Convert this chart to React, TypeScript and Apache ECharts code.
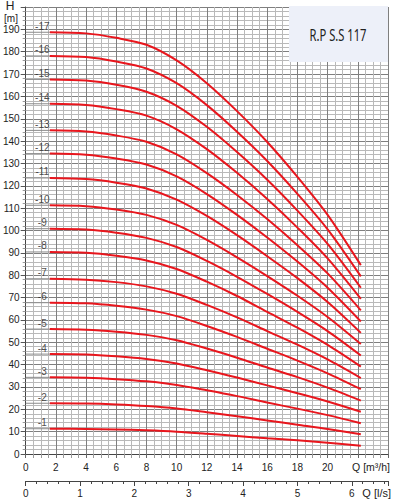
import React, { useEffect, useRef } from "react";
import * as echarts from "echarts";

// Flow points (m³/h) at which curve heads were read
const FLOW_Q = [1.6, 4, 6, 8, 10, 12, 14, 16, 18, 20, 22.2];

// Head (m) per stage count
const H1 = [11.3, 11.2, 11.0, 10.6, 10.0, 9.1, 8.1, 7.0, 6.1, 5.0, 3.7];
const H2 = [22.7, 22.6, 22.2, 21.5, 20.4, 18.7, 16.9, 15.0, 13.1, 11.2, 8.8];
const H3 = [34.3, 34.1, 33.5, 32.5, 30.9, 28.5, 25.9, 23.0, 20.3, 17.4, 13.8];
const H4 = [44.7, 44.5, 43.7, 42.5, 40.5, 37.5, 34.2, 30.7, 27.2, 23.5, 18.9];
const H5 = [55.9, 55.6, 54.7, 53.3, 50.9, 47.2, 43.1, 38.7, 34.4, 29.7, 23.9];
const H6 = [67.7, 67.4, 66.3, 64.6, 61.7, 57.3, 52.4, 47.1, 41.8, 36.1, 29.0];
const H7 = [78.4, 78.0, 76.9, 75.0, 71.7, 66.7, 61.1, 55.0, 48.9, 42.3, 34.0];
const H8 = [90.4, 90.0, 88.7, 86.6, 82.8, 77.1, 70.7, 63.6, 56.5, 48.8, 39.1];
const H9 = [100.8, 100.4, 99.0, 96.7, 92.6, 86.4, 79.3, 71.6, 63.6, 55.0, 44.1];
const H10 = [111.3, 110.9, 109.4, 107.0, 102.5, 95.8, 88.0, 79.6, 70.8, 61.3, 49.2];
const H11 = [123.5, 123.0, 121.4, 118.8, 113.8, 106.5, 97.9, 88.5, 78.7, 68.0, 54.2];
const H12 = [134.4, 133.9, 132.2, 129.5, 124.2, 116.3, 107.0, 96.9, 86.1, 74.4, 59.3];
const H13 = [144.8, 144.3, 142.5, 139.7, 134.1, 125.7, 115.9, 105.1, 93.4, 80.8, 64.3];
const H14 = [156.7, 156.2, 154.3, 151.4, 145.3, 136.4, 125.8, 114.1, 101.3, 87.5, 69.4];
const H15 = [167.6, 167.1, 165.2, 162.1, 155.8, 146.4, 135.1, 122.7, 108.9, 94.0, 74.4];
const H16 = [178.1, 177.6, 175.6, 172.5, 165.9, 156.1, 144.2, 131.1, 116.4, 100.5, 79.5];
const H17 = [188.7, 188.2, 186.2, 183.1, 176.1, 165.9, 153.4, 139.6, 124.0, 107.0, 84.5];

const STAGE_CURVES = [H1, H2, H3, H4, H5, H6, H7, H8, H9, H10, H11, H12, H13, H14, H15, H16, H17];
const STAGE_LABELS = ["-1", "-2", "-3", "-4", "-5", "-6", "-7", "-8", "-9", "-10", "-11", "-12", "-13", "-14", "-15", "-16", "-17"];

const TITLE = "R.P S.S 117";
const FLOW_MAX_M3H = 24;
const HEAD_MAX = 200;

const FONT = "'Liberation Sans', Arial, sans-serif";

export default function App() {
  const ref = useRef<HTMLDivElement>(null);

  useEffect(() => {
    if (!ref.current) return;
    const chart = echarts.init(ref.current, null, { renderer: "svg" });

    const curveSeries = STAGE_CURVES.map((arr, i) => ({
      type: "line",
      name: STAGE_LABELS[i],
      data: arr.map((h, j) => [FLOW_Q[j], h]),
      showSymbol: false,
      smooth: 0.3,
      lineStyle: { color: "#e8161d", width: 2 },
      z: 5,
      silent: true,
    }));

    const leaderSeries = STAGE_CURVES.map((arr) => ({
      type: "line",
      data: [
        [0, arr[0]],
        [FLOW_Q[0], arr[0]],
      ],
      showSymbol: false,
      lineStyle: { color: "#8a8a8a", width: 1 },
      z: 4,
      silent: true,
    }));

    const labelSeries = {
      type: "scatter",
      symbolSize: 0,
      data: STAGE_CURVES.map((arr, i) => [1.1, arr[0], STAGE_LABELS[i]]),
      label: {
        show: true,
        position: "top",
        distance: 1,
        formatter: (p: any) => p.value[2],
        color: "#222",
        fontSize: 10,
        fontFamily: FONT,
      },
      silent: true,
      z: 6,
    };

    chart.setOption({
      animation: false,
      grid: { left: 23, top: 7, right: 8, bottom: 46, containLabel: false },
      xAxis: [
        {
          type: "value",
          min: 0,
          max: FLOW_MAX_M3H,
          interval: 2,
          axisLine: { show: true, onZero: false, lineStyle: { color: "#444", width: 1 } },
          axisTick: { show: true, length: 4, lineStyle: { color: "#666" } },
          minorTick: { show: true, splitNumber: 4, length: 4, lineStyle: { color: "#999" } },
          axisLabel: {
            margin: 8,
            fontSize: 10,
            color: "#222",
            fontFamily: FONT,
            formatter: (v: number) => (v <= 20 ? String(v) : ""),
          },
          splitLine: { show: true, lineStyle: { color: "#7f7f7f", width: 1 } },
          minorSplitLine: { show: true, lineStyle: { color: "#b9b9b9", width: 1 } },
        },
        {
          type: "value",
          position: "bottom",
          offset: 27,
          min: 0,
          max: FLOW_MAX_M3H / 3.6,
          interval: 1,
          axisLine: { show: true, onZero: false, lineStyle: { color: "#444", width: 1 } },
          axisTick: { show: true, length: 5, lineStyle: { color: "#444" } },
          minorTick: { show: true, splitNumber: 5, length: 3, lineStyle: { color: "#444" } },
          axisLabel: {
            margin: 7,
            fontSize: 10,
            color: "#222",
            fontFamily: FONT,
            showMaxLabel: false,
            formatter: (v: number) => (Math.abs(v - Math.round(v)) < 1e-6 ? String(Math.round(v)) : ""),
          },
          splitLine: { show: false },
        },
      ],
      yAxis: {
        type: "value",
        min: 0,
        max: HEAD_MAX,
        interval: 10,
        axisLine: { show: true, onZero: false, lineStyle: { color: "#444", width: 1 } },
        axisTick: { show: true, length: 5, lineStyle: { color: "#555" } },
        minorTick: { show: true, splitNumber: 5, length: 3, lineStyle: { color: "#999" } },
        axisLabel: {
          margin: 6,
          fontSize: 10,
          color: "#222",
          fontFamily: FONT,
          formatter: (v: number) => (v < HEAD_MAX ? String(v) : ""),
        },
        splitLine: { show: true, lineStyle: { color: "#7f7f7f", width: 1 } },
        minorSplitLine: { show: true, lineStyle: { color: "#b9b9b9", width: 1 } },
      },
      series: [...leaderSeries, ...curveSeries, labelSeries],
      graphic: [
        {
          type: "rect",
          shape: { x: 289, y: 6, width: 99, height: 56 },
          style: { fill: "#edf0f9", stroke: "none" },
          z: 100,
        },
        {
          type: "text",
          x: 338,
          y: 35,
          scaleX: 0.7,
          style: {
            text: TITLE,
            fontSize: 16,
            fontFamily: "'Noto Sans', sans-serif",
            fill: "#222",
            textAlign: "center",
            textVerticalAlign: "middle",
          },
          z: 101,
        },
        {
          type: "text",
          x: 10,
          y: 6,
          style: { text: "H", fontSize: 12, fontFamily: FONT, fill: "#222", textAlign: "center", textVerticalAlign: "middle" },
          z: 101,
        },
        {
          type: "text",
          x: 11,
          y: 18,
          style: { text: "[m]", fontSize: 10, fontFamily: FONT, fill: "#222", textAlign: "center", textVerticalAlign: "middle" },
          z: 101,
        },
        {
          type: "text",
          x: 390,
          y: 467,
          style: { text: "Q [m³/h]", fontSize: 10.5, fontFamily: FONT, fill: "#222", textAlign: "right", textVerticalAlign: "middle" },
          z: 101,
        },
        {
          type: "text",
          x: 391,
          y: 493,
          style: { text: "Q [l/s]", fontSize: 11, fontFamily: FONT, fill: "#222", textAlign: "right", textVerticalAlign: "middle" },
          z: 101,
        },
      ],
    });

    return () => chart.dispose();
  }, []);

  return <div ref={ref} style={{ width: 396, height: 500, position: "absolute", left: 0, top: 0 }} />;
}
